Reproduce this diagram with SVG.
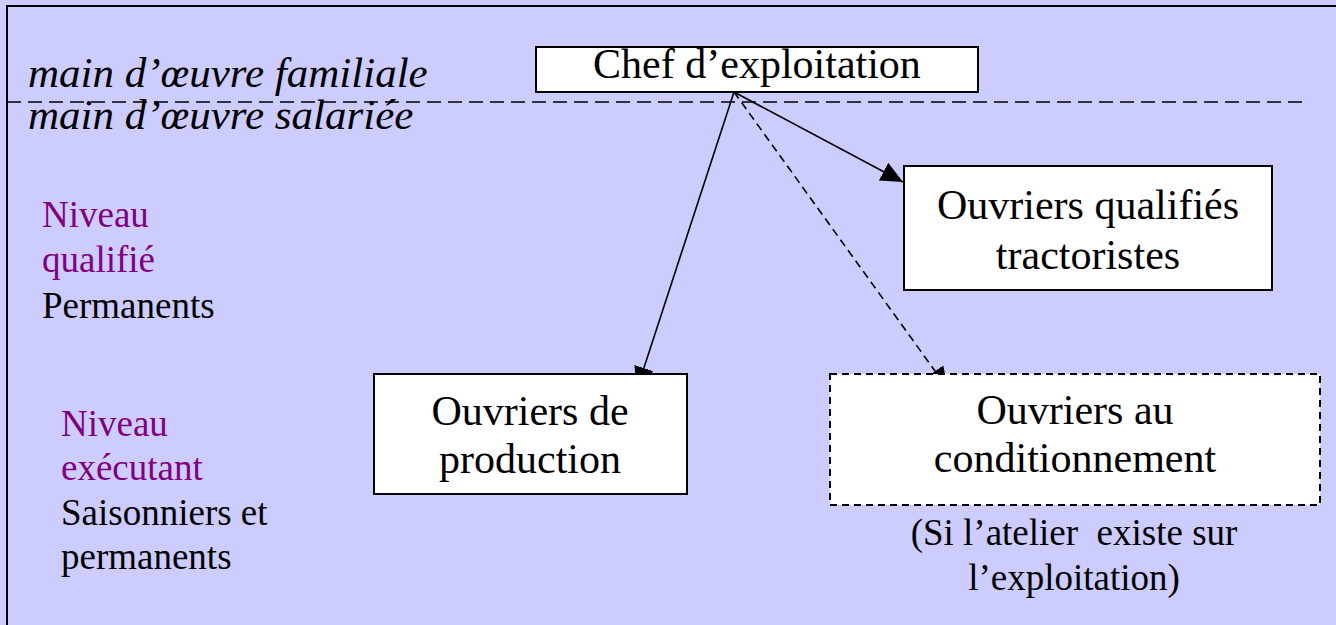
<svg xmlns="http://www.w3.org/2000/svg" width="1336" height="625" viewBox="0 0 1336 625">
<style>
.box{fill:#fff;stroke:#000;stroke-width:2}
.dbox{fill:#fff;stroke:#000;stroke-width:2;stroke-dasharray:7 5}
text{font-family:'Liberation Serif','Times New Roman',serif;fill:#000}
.big{font-size:42px;text-anchor:middle}
.sm{font-size:37px}
.it{font-size:43px;font-style:italic}
.pur{fill:#800080}
.c{stroke:#000;stroke-width:1.6;fill:none}
</style>
<defs>
<marker id="ah" markerUnits="userSpaceOnUse" markerWidth="24" markerHeight="20" refX="22" refY="10" orient="auto">
<path d="M0,0 L22,10 L0,20 Z" fill="#000"/>
</marker>
</defs>
<rect x="0" y="0" width="1336" height="625" fill="#CCCCFF"/>
<path d="M7,630 L7,6 L1340,6" fill="none" stroke="#000" stroke-width="2"/>
<line x1="7" y1="102" x2="1305" y2="102" stroke="#000" stroke-width="1.6" stroke-dasharray="14 7"/>
<g id="labels-left" font-family="Liberation Serif, serif">
<text class="it" x="28" y="87">main d’œuvre familiale</text>
<text class="it" x="28" y="129">main d’œuvre salariée</text>
<text class="sm pur" x="42" y="227">Niveau</text>
<text class="sm pur" x="42" y="272">qualifié</text>
<text class="sm" x="42" y="318">Permanents</text>
<text class="sm pur" x="61" y="436">Niveau</text>
<text class="sm pur" x="61" y="480">exécutant</text>
<text class="sm" x="61" y="525">Saisonniers et</text>
<text class="sm" x="61" y="569">permanents</text>
</g>
<g id="connectors">
<line class="c" x1="734" y1="92" x2="637" y2="389" marker-end="url(#ah)"/>
<line class="c" x1="734" y1="92" x2="903" y2="182" marker-end="url(#ah)"/>
<line class="c" x1="734" y1="92" x2="948" y2="389" stroke-dasharray="8 5" marker-end="url(#ah)"/>
</g>
<g id="chef" font-family="Liberation Serif, serif">
<rect class="box" x="536" y="47" width="442" height="45"/>
<text class="big" x="757" y="78">Chef d’exploitation</text>
</g>
<g id="qualifies" font-family="Liberation Serif, serif">
<rect class="box" x="904" y="166" width="368" height="124"/>
<text class="big" x="1088" y="219">Ouvriers qualifiés</text>
<text class="big" x="1088" y="269">tractoristes</text>
</g>
<g id="production" font-family="Liberation Serif, serif">
<rect class="box" x="374" y="374" width="313" height="120"/>
<text class="big" x="530" y="425">Ouvriers de</text>
<text class="big" x="530" y="473">production</text>
</g>
<g id="conditionnement" font-family="Liberation Serif, serif">
<rect class="dbox" x="830" y="374" width="490" height="131"/>
<text class="big" x="1075" y="424">Ouvriers au</text>
<text class="big" x="1075" y="472">conditionnement</text>
<text class="sm" x="1074" y="545" text-anchor="middle" xml:space="preserve">(Si l’atelier  existe sur</text>
<text class="sm" x="1074" y="590" text-anchor="middle">l’exploitation)</text>
</g>
</svg>
